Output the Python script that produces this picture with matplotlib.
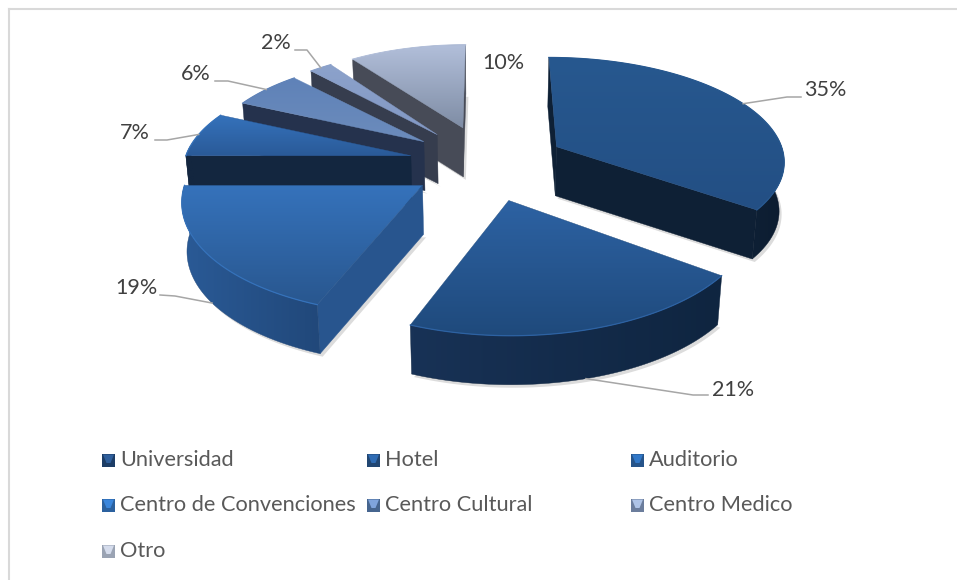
import numpy as np
import matplotlib
matplotlib.use("Agg")
import matplotlib.pyplot as plt
from matplotlib.colors import LinearSegmentedColormap
from matplotlib.patches import Polygon, Rectangle

plt.rcParams["font.family"] = ["Lato", "DejaVu Sans"]

categories = ["Universidad", "Hotel", "Auditorio", "Centro de Convenciones",
              "Centro Cultural", "Centro Medico", "Otro"]
values = [35, 21, 19, 7, 6, 2, 10]

# top face (light, dark), cut wall, outer wall (left, right)
top_colors = [("#27588f", "#234f84"), ("#2d62a3", "#1f4a7c"), ("#3572bb", "#29578f"),
              ("#3572bb", "#2a5a98"), ("#5f82b8", "#6c8cbc"), ("#8ca2cb", "#8298c4"),
              ("#b2bfda", "#7f8da5")]
wall_colors = ["#0e2035", "#14294a", "#28558e", "#13263f", "#25324d", "#363d4e", "#474b57"]
arc_colors = [("#0e2035", "#0c1c30"), ("#183256", "#0f2540"), ("#2a5a96", "#21487a"),
              ("#13263f", "#13263f"), ("#25324d", "#25324d"), ("#363d4e", "#363d4e"),
              ("#474b57", "#474b57")]
legend_dark = ["#1d3d66", "#214672", "#26548a", "#2b619f", "#46658f", "#6b7d9c", "#9aa3b3"]
legend_light = ["#2f5f9c", "#2f6cb4", "#3178c8", "#3a86dc", "#7fa4dc", "#aec3e6", "#d5dcec"]

# label text centres and leader line elbows, in pixels
label_pos = [(825, 90), (733, 390), (136, 288), (135, 133), (196, 74), (276, 43), (503, 63)]
leader_pts = [[(787, 97), (801, 97)], [(693, 395), (708, 395)], [(175, 296), (160, 295)],
              [(167, 140), (155, 140)], [(228, 81), (215, 81)], [(307, 50), (295, 50)], None]

# how the tilted pie lands on the page
cx, cy = 487, 164
explode_x, explode_y = 78, 38
radius_x = [225, 243, 238, 225, 214, 207, 210]
radius_y = [100, 119, 114, 100, 95, 95, 93]
persp = 0.12
converge = 0.11
lean = 0.017
height = 49


def rim(apex, rx, ry, t, z=0):
    s = 1 / (1 + persp * np.cos(t))
    # far points drift towards the middle of the pie
    x = apex[0] + rx * np.sin(t) * s - (apex[0] - cx) * converge * np.cos(t)
    y = apex[1] - ry * np.cos(t) * s
    return down((x, y), z)


def down(p, z=1):
    return (p[0] - (p[0] - cx) * lean * z, p[1] + height * z)


def grad_poly(ax, pts, c1, c2, zorder, horizontal=False):
    pts = np.array(pts)
    cmap = LinearSegmentedColormap.from_list("g", [c1, c2])
    g = np.linspace(0, 1, 64)
    g = g.reshape(1, -1) if horizontal else g.reshape(-1, 1)
    patch = Polygon(pts, closed=True, transform=ax.transData, fc="none", ec="none")
    ax.add_patch(patch)
    extent = (pts[:, 0].min(), pts[:, 0].max(), pts[:, 1].max(), pts[:, 1].min())
    im = ax.imshow(g, cmap=cmap, extent=extent, aspect="auto", zorder=zorder,
                   interpolation="bilinear", origin="upper")
    im.set_clip_path(patch)
    # keeps the edge of the gradient from looking jagged
    ax.add_patch(Polygon(pts, closed=True, fc="none", ec=c2, lw=0.3, zorder=zorder))


fig = plt.figure(figsize=(9.57, 5.8), dpi=100)
ax = fig.add_axes([0, 0, 1, 1])
ax.axis("off")

# only the top and left edges of the chart frame are in the picture
ax.plot([9, 957], [9, 9], color="#d9d9d9", lw=1.5, zorder=1)
ax.plot([9, 9], [9, 580], color="#d9d9d9", lw=1.5, zorder=1)

fracs = np.array(values) / sum(values)
ends = np.cumsum(fracs) * 2 * np.pi
starts = ends - fracs * 2 * np.pi
mids = (starts + ends) / 2

# back slices first so the front ones cover them
order = [6, 5, 4, 3, 2, 0, 1]
z = 2
for i in order:
    a, b = starts[i], ends[i]
    apex = (cx + explode_x * np.sin(mids[i]), cy - explode_y * np.cos(mids[i]))
    rx, ry = radius_x[i], radius_y[i]
    angles = np.linspace(a, b, 80)
    edge = [rim(apex, rx, ry, t) for t in angles]
    top = [apex] + edge
    bottom = [down(apex)] + [down(p) for p in edge]

    # soft shadow under the slice
    ax.add_patch(Polygon(np.array(bottom) + [2.5, 3], closed=True, fc="#dcdcdc", ec="none", zorder=z))
    z += 1

    # radial walls that face the viewer
    walls = []
    if np.cos(a - np.pi / 2) < 0.05:
        walls.append(a)
    if np.cos(b + np.pi / 2) < 0.05:
        walls.append(b)
    walls.sort(key=lambda t: rim(apex, rx, ry, t)[1])
    for t in walls:
        e = rim(apex, rx, ry, t)
        pts = [apex, e, down(e), down(apex)]
        ax.add_patch(Polygon(pts, closed=True, fc=wall_colors[i], ec=wall_colors[i], lw=0.3, zorder=z))
        z += 1

    # outer curved wall, front part only
    front = angles[np.cos(angles) < 0.1]
    if len(front) > 1:
        upper = [rim(apex, rx, ry, t) for t in front]
        pts = upper + [down(p) for p in upper[::-1]]
        grad_poly(ax, pts, arc_colors[i][0], arc_colors[i][1], z, horizontal=True)
        z += 1

    grad_poly(ax, top, top_colors[i][0], top_colors[i][1], z)
    z += 1
    # lighter rim along the curved edge of the top
    ax.plot([p[0] for p in edge], [p[1] for p in edge], color=top_colors[i][0], lw=0.9, zorder=z)
    z += 1

    # leader line and label
    if leader_pts[i] is not None:
        side = 1 if np.cos(mids[i]) < 0 else 0
        anchor = rim(apex, rx, ry, mids[i], side)
        line = np.array([anchor] + leader_pts[i])
        ax.plot(line[:, 0], line[:, 1], color="#a6a6a6", lw=1.1, zorder=300)
    ax.text(label_pos[i][0], label_pos[i][1], "%d%%" % values[i], fontsize=15.5, color="#404040",
            ha="center", va="center", zorder=310)

# legend
legend_x = [102, 367, 631]
legend_y = [460, 505, 551]
for i, name in enumerate(categories):
    lx = legend_x[i % 3]
    ly = legend_y[i // 3]
    ax.add_patch(Rectangle((lx, ly - 6.5), 13, 13, fc=legend_dark[i], ec="none", zorder=320))
    ax.add_patch(Polygon([(lx + 1, ly - 5.5), (lx + 12, ly - 5.5), (lx + 8.5, ly + 3), (lx + 4.5, ly + 3)],
                         closed=True, fc=legend_light[i], ec="none", zorder=330))
    ax.text(lx + 18, ly, name, fontsize=15.7, color="#595959", ha="left", va="center", zorder=330)

ax.set_xlim(0, 957)
ax.set_ylim(580, 0)
fig.savefig("out.png", dpi=100, facecolor="white")
